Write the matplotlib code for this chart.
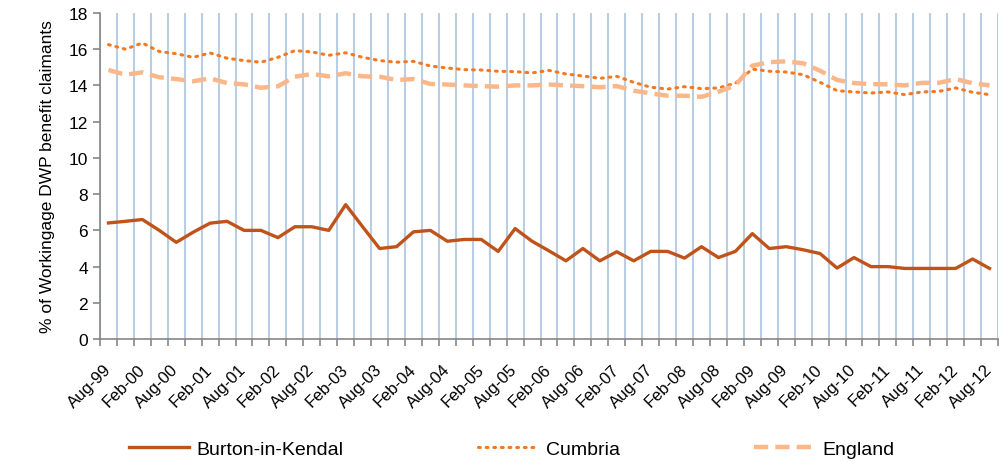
import numpy as np
import matplotlib.pyplot as plt

plt.rcParams['font.family'] = ['Liberation Sans', 'DejaVu Sans']

# Quarterly values, Aug-99 .. Aug-12 (53 quarters)
months = ["Aug", "Nov", "Feb", "May"]
periods = []
for i in range(53):
    yr = 99 + i // 4 + (1 if i % 4 >= 2 else 0)
    periods.append(months[i % 4] + "-" + str(yr % 100).zfill(2))

burton = [6.41, 6.5, 6.6, 6.0, 5.34, 5.9, 6.4, 6.5, 6.0, 6.0, 5.6,
          6.2, 6.2, 6.0, 7.42, 6.2, 5.0, 5.1, 5.92, 6.0, 5.4, 5.5,
          5.5, 4.84, 6.1, 5.4, 4.87, 4.32, 5.0, 4.32, 4.82, 4.32, 4.84,
          4.84, 4.47, 5.1, 4.5, 4.84, 5.82, 5.0, 5.1, 4.93, 4.72, 3.92,
          4.5, 4.0, 4.0, 3.9, 3.9, 3.9, 3.9, 4.42, 3.9]

cumbria = [16.25, 16.0, 16.34, 15.87, 15.75, 15.55, 15.79, 15.5, 15.37,
           15.28, 15.55, 15.92, 15.85, 15.66, 15.8, 15.55, 15.37, 15.28,
           15.33, 15.07, 14.96, 14.87, 14.85, 14.78, 14.76, 14.69, 14.83,
           14.63, 14.52, 14.39, 14.5, 14.17, 13.9, 13.8, 13.93, 13.82,
           13.86, 14.12, 14.9, 14.78, 14.74, 14.59, 14.17, 13.71, 13.64,
           13.58, 13.64, 13.49, 13.64, 13.67, 13.86, 13.62, 13.49]

england = [14.85, 14.59, 14.72, 14.45, 14.35, 14.23, 14.39, 14.13, 14.06,
           13.87, 13.95, 14.48, 14.63, 14.5, 14.67, 14.5, 14.48, 14.3,
           14.35, 14.08, 14.05, 14.0, 13.96, 13.93, 14.0, 14.0, 14.05,
           14.0, 13.96, 13.9, 13.96, 13.71, 13.56, 13.43, 13.43, 13.37,
           13.65, 14.0, 15.09, 15.28, 15.33, 15.22, 14.81, 14.3, 14.13,
           14.07, 14.06, 14.0, 14.14, 14.14, 14.35, 14.12, 14.0]

x = np.arange(len(periods))

fig = plt.figure(figsize=(10, 4.64), dpi=100)
ax = fig.add_axes([0.1, 0.267, 0.898, 0.703])

ax.plot(x, burton, color="#C0531A", lw=2.4, label="Burton-in-Kendal",
        solid_joinstyle="round", zorder=3)
ax.plot(x, cumbria, color="#F47920", lw=2.2, ls=(0, (0.6, 1.9)),
        dash_capstyle="round", label="Cumbria", zorder=3)
ax.plot(x, england, color="#FAB78A", lw=3.2, ls=(0, (3.2, 1.6)),
        label="England", zorder=3)

ax.set_xlim(-0.5, len(x) - 0.5)
ax.set_ylim(0, 18)
ax.set_yticks(range(0, 19, 2))

# category boundaries: ticks + vertical grid
ax.set_xticks(np.arange(-0.5, len(x), 1.0))
ax.set_xticklabels([])
ax.xaxis.grid(True, color="#B9CDE5", lw=1.5, zorder=0)
ax.set_xticks(x[::2], minor=True)
ax.set_xticklabels(periods[::2], minor=True, rotation=45, ha="right",
                   va="center", rotation_mode="anchor", fontsize=12)
ax.tick_params(axis="x", which="minor", length=0, pad=20)
ax.tick_params(axis="x", which="major", length=5, color="#868686", width=1.2)
ax.tick_params(axis="y", length=5, color="#868686", width=1.2, labelsize=12.5)

for s in ["top", "right"]:
    ax.spines[s].set_visible(False)
for s in ["left", "bottom"]:
    ax.spines[s].set_color("#868686")
    ax.spines[s].set_linewidth(1.2)

ax.set_ylabel("% of Workingage DWP benefit claimants", fontsize=12.5, labelpad=10)

fig.legend(loc="center", bbox_to_anchor=(0.5115, 0.03), ncol=3, frameon=False,
           fontsize=14, handlelength=3.1, columnspacing=6.9, handletextpad=0.4)

fig.savefig("out.png", dpi=100)
